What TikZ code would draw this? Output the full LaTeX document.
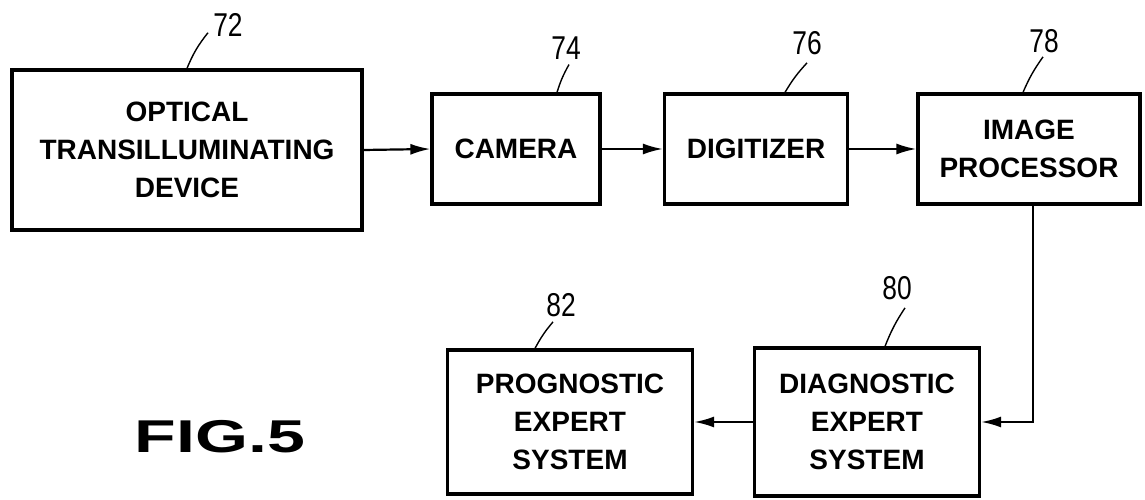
\documentclass[tikz,border=0pt]{standalone}
\usepackage{fontspec}
\setmainfont{Liberation Sans}
\usetikzlibrary{arrows.meta}
\begin{document}
\begin{tikzpicture}[x=1pt,y=1pt,
  blk/.style={draw,line width=3.2pt,align=center,inner sep=0pt,
    font=\bfseries\fontsize{28}{38}\selectfont},
  num/.style={inner sep=0pt,font=\fontsize{33}{33}\selectfont},
  lead/.style={line width=1.4pt},
  flow/.style={line width=2.2pt,-{Latex[length=20pt,width=11pt]}}]
\useasboundingbox (0,0) rectangle (1145,500);
\node[blk,minimum width=350,minimum height=160] (opt) at (187,350) {OPTICAL\\TRANSILLUMINATING\\DEVICE};
\node[blk,minimum width=168,minimum height=110] (cam) at (516,351) {CAMERA};
\node[blk,minimum width=183,minimum height=110] (dig) at (756,351) {DIGITIZER};
\node[blk,minimum width=222,minimum height=110] (proc) at (1029,351) {IMAGE\\PROCESSOR};
\node[blk,minimum width=225,minimum height=148] (diag) at (867,78) {DIAGNOSTIC\\EXPERT\\SYSTEM};
\node[blk,minimum width=245,minimum height=144] (prog) at (570,78) {PROGNOSTIC\\EXPERT\\SYSTEM};
\node[inner sep=0pt] (fig) at (220,63) {\scalebox{1.48}[1]{\bfseries\fontsize{46}{46}\selectfont FIG.5}};
\node[num] (l72) at (228,475) {\scalebox{0.8}[1]{72}};
\node[num] (l74) at (566,452) {\scalebox{0.8}[1]{74}};
\node[num] (l76) at (807,457) {\scalebox{0.8}[1]{76}};
\node[num] (l78) at (1044,459) {\scalebox{0.8}[1]{78}};
\node[num] (l80) at (897,212) {\scalebox{0.8}[1]{80}};
\node[num] (l82) at (561,195) {\scalebox{0.8}[1]{82}};
\draw[lead] (opt.north) to[bend left=8] ([xshift=-20pt,yshift=4pt]l72.south);
\draw[lead] ([xshift=41pt]cam.north) to[bend left=6] ([xshift=3pt,yshift=-5pt]l74.south);
\draw[lead] ([xshift=29pt]dig.north) to[bend left=6] ([yshift=-8pt]l76.south);
\draw[lead] ([xshift=-6pt]proc.north) to[bend left=6] ([xshift=-1pt,yshift=-4pt]l78.south);
\draw[lead] ([xshift=18pt]diag.north) to[bend left=6] ([xshift=8pt,yshift=-8pt]l80.south);
\draw[lead] ([xshift=-35pt]prog.north) to[bend left=6] ([xshift=-8pt,yshift=-5pt]l82.south);
\draw[flow] (opt.east) -- (cam.west);
\draw[flow] (cam.east) -- (dig.west);
\draw[flow] (dig.east) -- (proc.west);
\draw[flow] ([xshift=4pt]proc.south) |- (diag.east);
\draw[flow] (diag.west) -- (prog.east);
\end{tikzpicture}
\end{document}
